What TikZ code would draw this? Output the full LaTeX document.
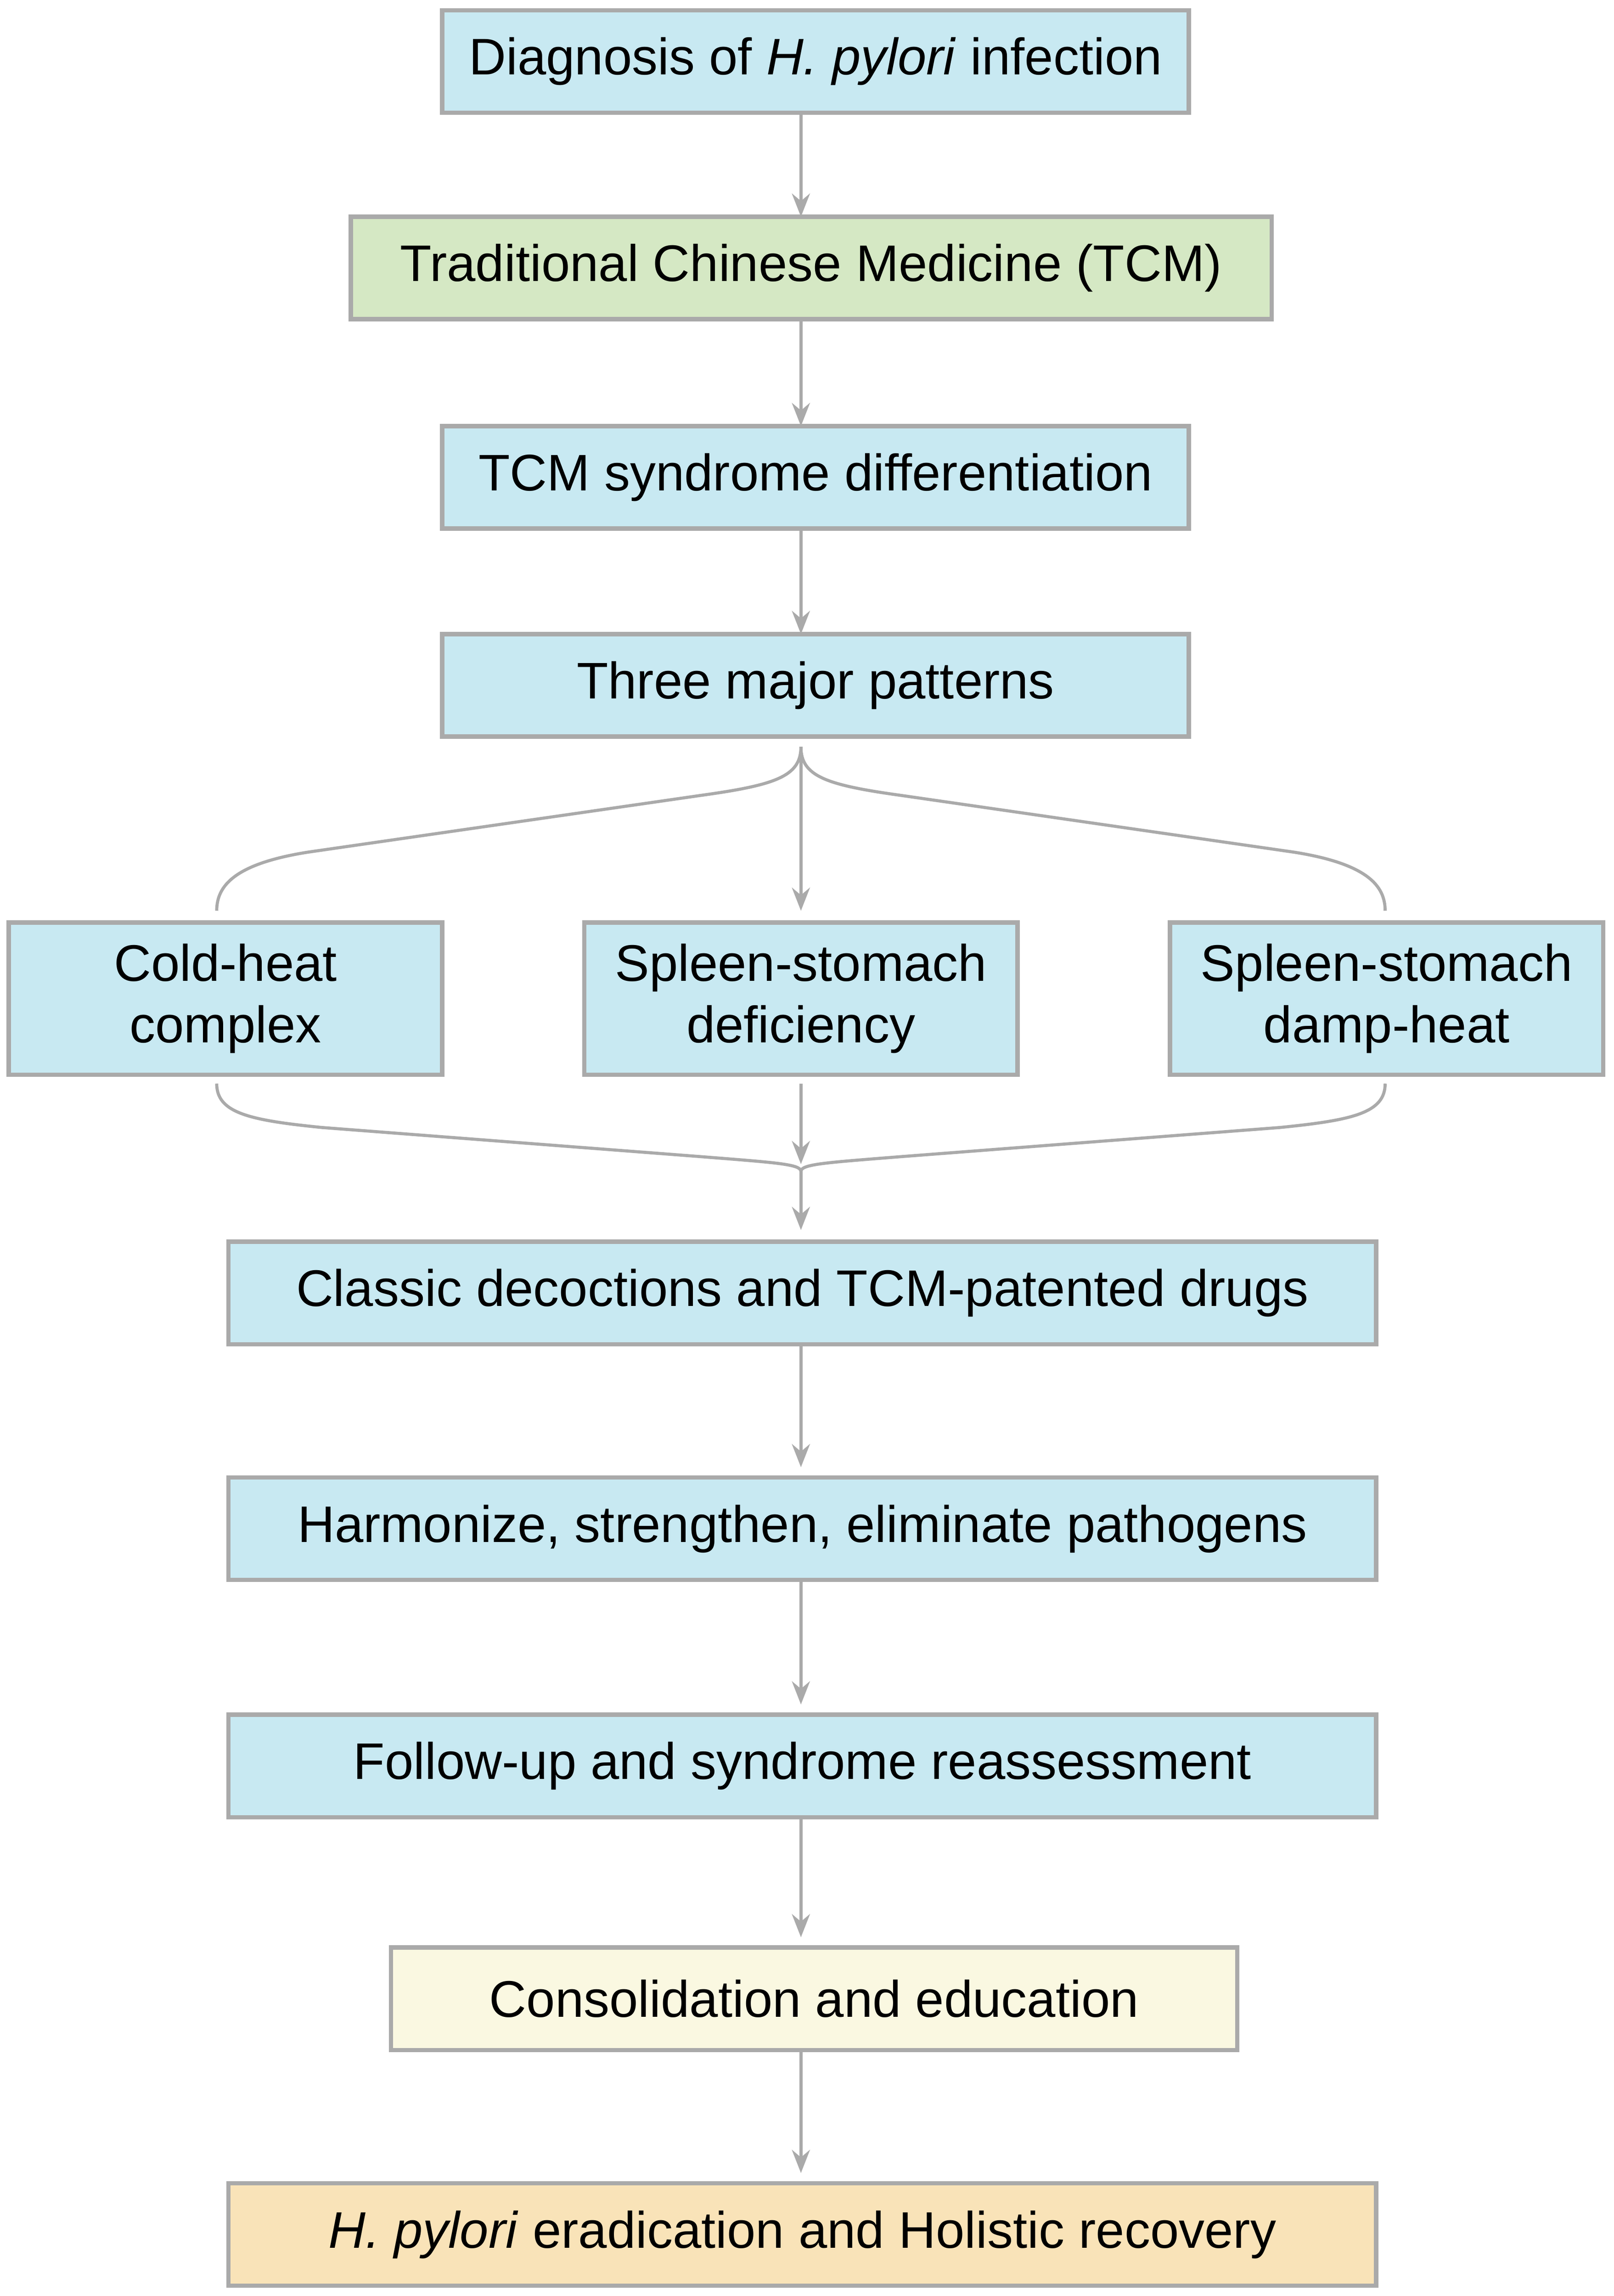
\documentclass[tikz,border=0pt]{standalone}
\usepackage{fontspec}
\setmainfont{Liberation Sans}
\usetikzlibrary{arrows.meta}
\definecolor{boxblue}{HTML}{C8E9F2}
\definecolor{boxgreen}{HTML}{D5E8C4}
\definecolor{boxyellow}{HTML}{FAF8E1}
\definecolor{boxorange}{HTML}{F9E3B8}
\definecolor{edgegray}{HTML}{AAAAAA}
\begin{document}
\begin{tikzpicture}[x=0.02cm, y=-0.02cm,
  main/.style = {draw=edgegray, line width=1.7pt, fill=boxblue, minimum height=1.4cm,
    align=center, font=\fontsize{20}{24}\selectfont, inner sep=0pt},
  arr/.style = {draw=edgegray, line width=1.2pt, -{Stealth[length=9pt,width=7pt]}},
  link/.style = {draw=edgegray, line width=1.2pt}]
	\useasboundingbox (0,0) rectangle (1102,1568);
	\node[main, minimum width=10.2cm] (0) at (557,42) {Diagnosis of \textit{H. pylori} infection};
	\node[main, minimum width=12.58cm, fill=boxgreen] (1) at (554,183) {Traditional Chinese Medicine (TCM)};
	\node[main, minimum width=10.2cm] (2) at (557,326) {TCM syndrome differentiation};
	\node[main, minimum width=10.2cm] (3) at (557,468) {Three major patterns};
	\node[main, minimum width=5.92cm, minimum height=2.08cm] (4) at (154,682) {Cold-heat\\complex};
	\node[main, minimum width=5.92cm, minimum height=2.08cm] (5) at (547,682) {Spleen-stomach\\deficiency};
	\node[main, minimum width=5.92cm, minimum height=2.08cm] (6) at (947,682) {Spleen-stomach\\damp-heat};
	\node[main, minimum width=15.68cm] (7) at (548,883) {Classic decoctions and TCM-patented drugs};
	\node[main, minimum width=15.68cm] (8) at (548,1044) {Harmonize, strengthen, eliminate pathogens};
	\node[main, minimum width=15.68cm] (9) at (548,1206) {Follow-up and syndrome reassessment};
	\node[main, minimum width=11.56cm, fill=boxyellow] (10) at (556,1365) {Consolidation and education};
	\node[main, minimum width=15.68cm, fill=boxorange] (11) at (548,1526) {\textit{H. pylori} eradication and Holistic recovery};
	\coordinate (s) at (547,510);
	\coordinate (m) at (547,800);
	\draw[arr] (547,76) -- (547,148);
	\draw[arr] (547,218) -- (547,291);
	\draw[arr] (547,361) -- (547,433);
	\draw[arr] (s) -- (547,622);
	\draw[link] (s) .. controls (547,530) and (530,536) .. (480,543) -- (210,582) .. controls (160,590) and (148,605) .. (148,622);
	\draw[link] (s) .. controls (547,530) and (564,536) .. (614,543) -- (884,582) .. controls (934,590) and (946,605) .. (946,622);
	\draw[arr] (547,740) -- (547,795);
	\draw[link] (148,740) .. controls (148,760) and (170,765) .. (220,770) -- (480,790) .. controls (530,794) and (547,795) .. (m);
	\draw[link] (946,740) .. controls (946,760) and (924,765) .. (874,770) -- (614,790) .. controls (564,794) and (547,795) .. (m);
	\draw[arr] (m) -- (547,840);
	\draw[arr] (547,918) -- (547,1002);
	\draw[arr] (547,1079) -- (547,1164);
	\draw[arr] (547,1241) -- (547,1323);
	\draw[arr] (547,1400) -- (547,1484);
\end{tikzpicture}
\end{document}
